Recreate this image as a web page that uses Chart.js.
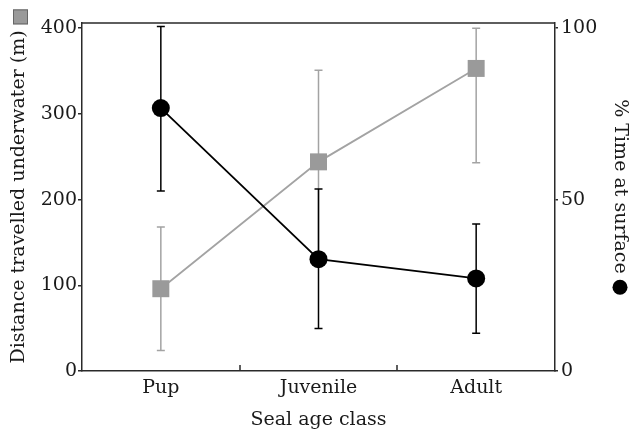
<!DOCTYPE html>
<html>
<head>
<meta charset="utf-8">
<script src="https://cdn.jsdelivr.net/npm/chart.js@4.4.1/dist/chart.umd.min.js"></script>
<style>
  html, body { margin: 0; padding: 0; background: #fff; }
  #wrap { width: 630px; height: 435px; }
</style>
</head>
<body>
<div id="wrap"><canvas id="chart" width="630" height="435"></canvas></div>
<script>
// values
const categories = ["Pup", "Juvenile", "Adult"];
const distance = [96, 244, 353];
const distanceLow = [24, 137, 243];
const distanceHigh = [168, 351, 400];
const surface = [76.7, 32.6, 27.0];
const surfaceLow = [52.5, 12.4, 11.0];
const surfaceHigh = [100.5, 53.1, 42.9];
const leftTicks = [0, 100, 200, 300, 400];
const rightTicks = [0, 50, 100];

const FONT = "'DejaVu Serif', serif";
const INK = "#1a1a1a";
const AXIS = "#2a2a2a";
const GREY = "#a3a3a3";
const GREY_FILL = "#9a9a9a";

// error bars, drawn under each dataset's own line and markers
const errorBars = {
  id: "errorBars",
  beforeDatasetDraw(chart, args) {
    const ds = chart.data.datasets[args.index];
    if (!ds.errLow) return;
    const ys = chart.scales[ds.yAxisID];
    const ctx = chart.ctx;
    const cap = 4;
    ctx.save();
    ctx.strokeStyle = ds.errColor;
    ctx.lineWidth = 1.5;
    args.meta.data.forEach((pt, i) => {
      const x = pt.x;
      const yl = ys.getPixelForValue(ds.errLow[i]);
      const yh = ys.getPixelForValue(ds.errHigh[i]);
      ctx.beginPath();
      ctx.moveTo(x, yl); ctx.lineTo(x, yh);
      ctx.moveTo(x - cap, yl); ctx.lineTo(x + cap, yl);
      ctx.moveTo(x - cap, yh); ctx.lineTo(x + cap, yh);
      ctx.stroke();
    });
    ctx.restore();
  }
};

// top frame line, inner ticks between classes, y titles with their symbols
const frame = {
  id: "frame",
  afterDraw(chart) {
    const { ctx, chartArea: a } = chart;
    const xs = chart.scales.x;
    ctx.save();
    ctx.strokeStyle = AXIS;
    ctx.lineWidth = 1.5;
    ctx.beginPath();
    ctx.moveTo(a.left, a.top); ctx.lineTo(a.right, a.top);
    for (let i = 0; i < categories.length - 1; i++) {
      const bx = Math.round((xs.getPixelForValue(i) + xs.getPixelForValue(i + 1)) / 2);
      ctx.moveTo(bx, a.bottom); ctx.lineTo(bx, a.bottom - 6);
    }
    ctx.stroke();

    const mid = (a.top + a.bottom) / 2;
    ctx.font = "19px " + FONT;
    ctx.fillStyle = INK;
    ctx.textBaseline = "middle";

    // left title, reads bottom to top, grey square after it
    const lt = "Distance travelled underwater (m)";
    const lw = ctx.measureText(lt).width;
    ctx.save();
    ctx.translate(19, mid);
    ctx.rotate(-Math.PI / 2);
    ctx.textAlign = "center";
    ctx.fillText(lt, 0, 0);
    ctx.restore();
    const sq = 15;
    const sy = mid - lw / 2 - 6 - sq;
    ctx.fillStyle = GREY_FILL;
    ctx.fillRect(13, sy, sq, sq);
    ctx.strokeStyle = "#666";
    ctx.lineWidth = 1;
    ctx.strokeRect(13.5, sy + 0.5, sq - 1, sq - 1);

    // right title, reads top to bottom, black dot after it
    const rt = "% Time at surface";
    const rw = ctx.measureText(rt).width;
    const dot = 15, gap = 6;
    const start = mid - (rw + gap + dot) / 2;
    ctx.fillStyle = INK;
    ctx.save();
    ctx.translate(620, start);
    ctx.rotate(Math.PI / 2);
    ctx.textAlign = "left";
    ctx.fillText(rt, 0, 0);
    ctx.restore();
    ctx.fillStyle = "#000";
    ctx.beginPath();
    ctx.arc(620, start + rw + gap + dot / 2, dot / 2, 0, Math.PI * 2);
    ctx.fill();
    ctx.restore();
  }
};

new Chart(document.getElementById("chart"), {
  type: "line",
  data: {
    labels: categories,
    datasets: [
      {
        label: "% Time at surface",
        data: surface,
        yAxisID: "yR",
        errLow: surfaceLow,
        errHigh: surfaceHigh,
        errColor: "#000",
        borderColor: "#000",
        backgroundColor: "#000",
        borderWidth: 1.8,
        pointStyle: "circle",
        pointRadius: 9,
        pointBorderWidth: 0,
        tension: 0,
        order: 1
      },
      {
        label: "Distance travelled underwater (m)",
        data: distance,
        yAxisID: "yL",
        errLow: distanceLow,
        errHigh: distanceHigh,
        errColor: GREY,
        borderColor: GREY,
        backgroundColor: GREY_FILL,
        borderWidth: 1.8,
        pointStyle: "rect",
        pointRadius: 12,
        pointBorderWidth: 0,
        tension: 0,
        order: 2
      }
    ]
  },
  options: {
    responsive: false,
    animation: false,
    layout: { padding: { top: 23, left: 0, right: 0, bottom: 0 } },
    plugins: { legend: { display: false }, tooltip: { enabled: false } },
    scales: {
      x: {
        type: "category",
        offset: true,
        afterFit: (s) => { s.height = 64; },
        grid: { display: false, drawTicks: false },
        border: { color: AXIS, width: 1.5 },
        ticks: { color: INK, font: { family: FONT, size: 19 }, padding: 6, maxRotation: 0, autoSkip: false },
        title: { display: true, text: "Seal age class", color: INK, font: { family: FONT, size: 19 }, padding: { top: 0, bottom: 4 } }
      },
      yL: {
        position: "left",
        min: 0,
        max: 406,
        afterFit: (s) => { s.width = 82; },
        afterBuildTicks: (s) => { s.ticks = leftTicks.map((v) => ({ value: v })); },
        grid: { drawOnChartArea: false, tickLength: 4, color: AXIS, lineWidth: 1.5 },
        border: { color: AXIS, width: 1.5 },
        ticks: { color: INK, font: { family: FONT, size: 19 }, padding: 1 }
      },
      yR: {
        position: "right",
        min: 0,
        max: 101.5,
        afterFit: (s) => { s.width = 75; },
        afterBuildTicks: (s) => { s.ticks = rightTicks.map((v) => ({ value: v })); },
        grid: { drawOnChartArea: false, tickLength: 3, color: AXIS, lineWidth: 1.5 },
        border: { color: AXIS, width: 1.5 },
        ticks: { color: INK, font: { family: FONT, size: 19 }, padding: 3 }
      }
    }
  },
  plugins: [errorBars, frame]
});
</script>
</body>
</html>
